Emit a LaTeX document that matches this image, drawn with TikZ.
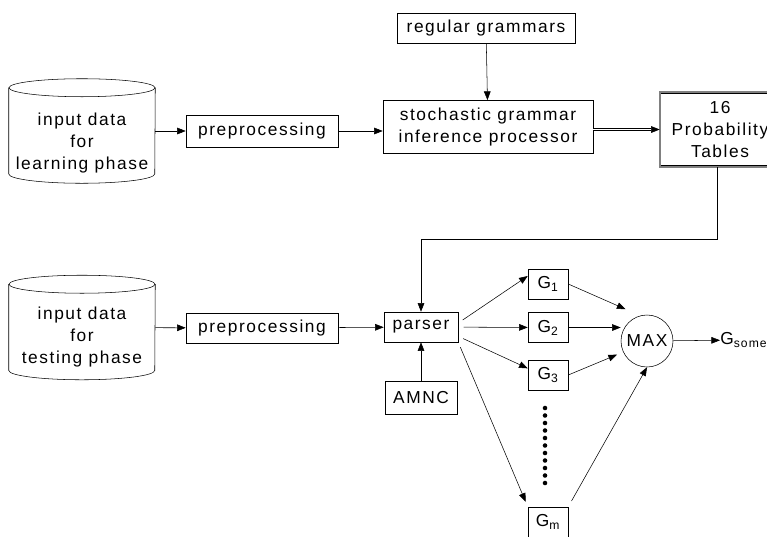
\documentclass[tikz,border=0pt]{standalone}
\usepackage{fontspec}
\setmainfont[LetterSpace=9]{Liberation Sans}
\usetikzlibrary{arrows.meta}
\begin{document}
\begin{tikzpicture}[x=0.75pt,y=-0.75pt,
    font=\fontsize{13}{16.5}\selectfont,
    >={Triangle[length=6.5pt,width=5pt]},
    box/.style={draw,inner sep=0pt,align=center},
    db/.style={minimum width=109.5pt,minimum height=78pt,inner sep=0pt},
    gbox/.style={box,minimum width=30pt,minimum height=22.5pt}]
  \useasboundingbox (0,0) rectangle (767,536);
  % learning phase
  \node[db] (learn) at (82,131) {};
  \node[align=center] (learntxt) at (82,143) {input data\\for\\learning phase};
  \node[box,minimum width=114pt,minimum height=24pt] (prep1) at (262,131) {preprocessing};
  \node[box,minimum width=157.5pt,minimum height=40pt] (infer) at (488,127)
    {stochastic grammar\\inference processor};
  \node[box,minimum width=133.5pt,minimum height=22.5pt] (regular) at (486,28) {regular grammars};
  \node[box,minimum width=90pt,minimum height=56pt,draw=black,
    double=gray,double distance=1.4pt] (tables) at (720,129.5) {16\\Probability\\Tables};
  % testing phase
  \node[db] (test) at (82,327.5) {};
  \node[align=center] (testtxt) at (82,337) {input data\\for\\testing phase};
  \node[box,minimum width=114pt,minimum height=22.5pt] (prep2) at (262,328) {preprocessing};
  \node[box,minimum width=55.5pt,minimum height=22.5pt] (parser) at (421,327) {parser};
  \node[box,minimum width=54pt,minimum height=25pt] (amnc) at (421,398) {AMNC};
  \node[gbox] (g1) at (548,284) {G\textsubscript{1}};
  \node[gbox] (g2) at (548,327.5) {G\textsubscript{2}};
  \node[gbox] (g3) at (548,375) {G\textsubscript{3}};
  \node[gbox] (gm) at (548,522) {G\textsubscript{m}};
  \node[draw,circle,minimum size=39pt,inner sep=0pt] (max) at (647,341) {MAX};
  \node[anchor=west,inner sep=0pt] (out) at (720,340) {G\textsubscript{some}};
  % the two data stores
  \foreach \d in {learn,test} {
    \draw ([yshift=-6.75pt]\d.north) ellipse (54.75pt and 6.75pt);
    \draw ([yshift=-6.75pt]\d.north west) -- ([yshift=7pt]\d.south west)
      arc[start angle=180,end angle=360,x radius=54.75pt,y radius=7pt]
      -- ([yshift=-6.75pt]\d.north east);
  }
  \foreach \i in {0,...,10}
    \fill (545,408+7.5*\i) circle (1.7pt);
  \coordinate (turn) at (421,239);
  % connectors
  \draw[->] (learn) -- (prep1);
  \draw[->] (prep1) -- (prep1 -| infer.west);
  \draw[->] (regular) -- (infer);
  \draw[->,double,double distance=1pt] (infer.east |- tables) -- (tables);
  \draw[->] (tables.south -| 717,0) |- (turn) -- (parser.north);
  \draw[->] (test) -- (prep2);
  \draw[->] (prep2) -- (parser);
  \draw[->] (amnc) -- (parser);
  \draw[->,shorten <=4pt] ([yshift=3pt]parser.east) -- ([yshift=6pt]g1.west);
  \draw[->,shorten <=4pt] (parser) -- (g2);
  \draw[->,shorten <=4pt] ([yshift=-7pt]parser.east) -- ([yshift=5pt]g3.west);
  \draw[->,shorten <=4pt,shorten >=4pt] (parser.south east) -- (gm.north west);
  \draw[->,shorten >=12pt] (g1.east) -- (max.105);
  \draw[->] (g2) -- (g2 -| max.west);
  \draw[->,shorten >=5pt] (g3.east) -- (max.205);
  \draw[->,shorten <=5pt] (gm.north east) -- (max.south);
  \draw[->] (max) -- (out);
\end{tikzpicture}
\end{document}
